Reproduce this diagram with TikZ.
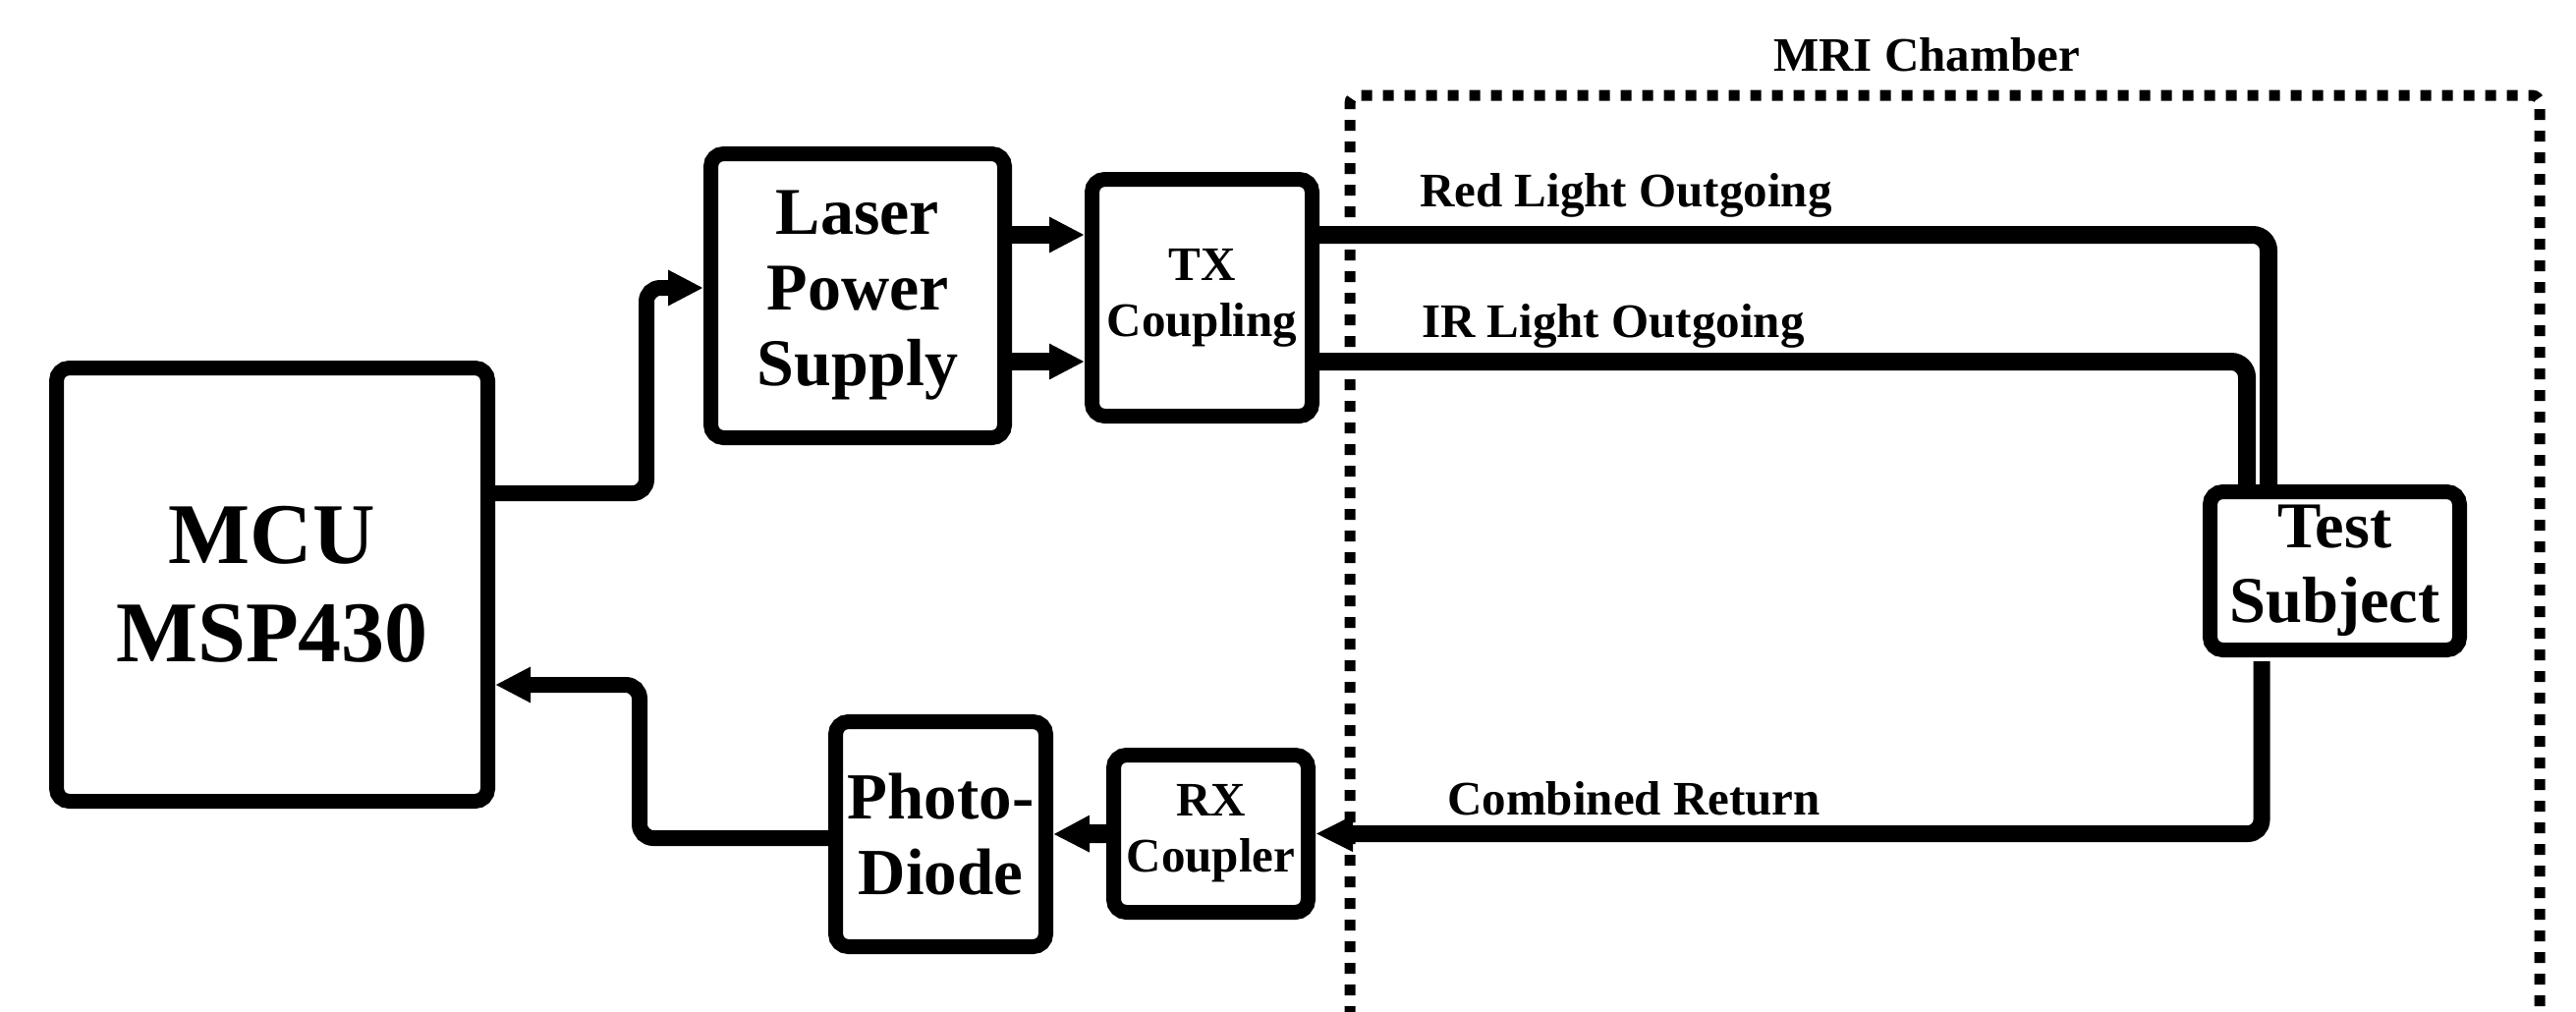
\documentclass[tikz,border=0pt]{standalone}
\usepackage{fontspec}
\setmainfont{Liberation Serif}
\usetikzlibrary{arrows.meta}
\begin{document}
\begin{tikzpicture}[x=1pt,y=-1pt,
  box/.style={draw, line width=15pt, rounded corners=13pt, inner sep=0pt, align=center},
  conn/.style={line width=16pt, rounded corners=14pt, -{Triangle[length=36pt,width=34pt]}},
  fiber/.style={line width=18pt, rounded corners=16pt},
  chamber/.style={line width=11pt, dash pattern=on 11pt off 11pt, rounded corners=8pt},
  lbl/.style={font=\bfseries\fontsize{49}{56}\selectfont, anchor=base west, inner sep=0pt}]
\useasboundingbox (0,0) rectangle (2622,1029);

% MRI chamber outline
\draw[chamber] (1374,1035) -- (1374,97) -- (2585,97) -- (2585,1035);
\node[lbl, anchor=base] (mri) at (1961,72) {MRI Chamber};

% blocks
\node[box, minimum width=439pt, minimum height=441pt, font=\bfseries\fontsize{88}{100}\selectfont] (mcu) at (277,595) {MCU\\MSP430};
\node[box, minimum width=299pt, minimum height=289pt, font=\bfseries\fontsize{68}{77}\selectfont] (laser) at (873,301) {Laser\\Power\\Supply};
\node[box, minimum width=224pt, minimum height=241pt, font=\bfseries\fontsize{49}{57}\selectfont] (tx) at (1223.5,303) {TX\\Coupling};
\node[box, minimum width=214pt, minimum height=229pt, font=\bfseries\fontsize{67}{77}\selectfont] (photo) at (957.5,849) {Photo-\\Diode};
\node[box, minimum width=198pt, minimum height=160pt, font=\bfseries\fontsize{49}{57}\selectfont] (rx) at (1232.5,848.5) {RX\\Coupler};
\node[box, minimum width=254pt, minimum height=161pt, font=\bfseries\fontsize{66.5}{76}\selectfont] (test) at (2376.5,581) {Test\\Subject};

% MCU -> Laser
\coordinate (m1) at ([yshift=93pt]mcu.east);
\coordinate (l1) at ([yshift=8pt]laser.west);
\draw[conn] (m1) -| (658,400) |- (l1);

% Laser -> TX
\coordinate (a1) at ([yshift=62pt]laser.east);
\coordinate (a2) at ([yshift=-67pt]laser.east);
\draw[conn, line width=18pt] (a1) -- (a1 -| tx.west);
\draw[conn, line width=18pt] (a2) -- (a2 -| tx.west);

% TX -> Test subject fibers
\coordinate (t1) at ([yshift=64pt]tx.east);
\coordinate (s1) at ([xshift=-67.5pt]test.north);
\draw[fiber] (t1) -| (s1);
\coordinate (t2) at ([yshift=-65pt]tx.east);
\coordinate (s2) at ([xshift=-89.5pt]test.north);
\draw[fiber] (t2) -| (s2);

% Test subject -> RX
\coordinate (s3) at ([xshift=-74.5pt,yshift=-4pt]test.south);
\draw[conn, line width=17pt, -{Triangle[length=38pt,width=34pt]}] (s3) |- (rx.east);

% RX -> Photodiode
\draw[conn, line width=19pt, -{Triangle[length=37pt,width=35pt]}] (rx.west) -- (photo.east);

% Photodiode -> MCU
\coordinate (p1) at ([yshift=-4pt]photo.west);
\coordinate (m2) at ([yshift=-102pt]mcu.east);
\draw[conn] (p1) -| (651,780) |- (m2);

% labels
\node[lbl] (redlbl) at (1445,210) {Red Light Outgoing};
\node[lbl] (irlbl) at (1447,343) {IR Light Outgoing};
\node[lbl] (crlbl) at (1473,829) {Combined Return};
\end{tikzpicture}
\end{document}
